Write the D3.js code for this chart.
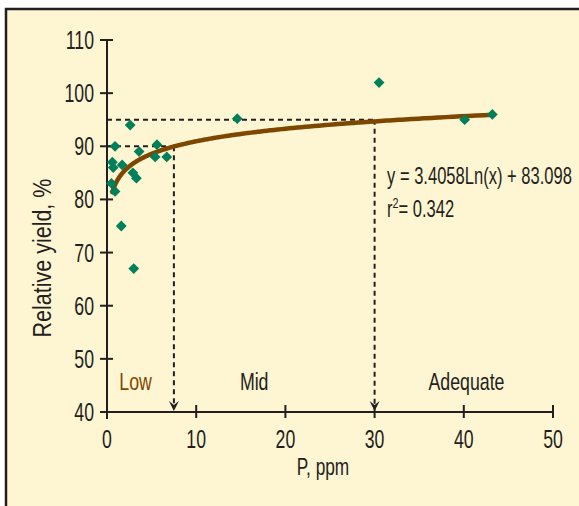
<!DOCTYPE html>
<html><head><meta charset="utf-8">
<script src="https://cdn.jsdelivr.net/npm/d3@7"></script>
<style>
html,body{margin:0;padding:0;background:#fff;}
svg{display:block;}
text{font-family:"Liberation Sans",Arial,sans-serif;fill:#231f20;}
</style></head>
<body>
<script>
// ---- data ----
const pointsX = [0.5, 0.9, 0.6, 0.7, 0.9, 1.7, 1.6, 2.6, 2.9, 3.3, 3.0, 3.6, 5.4, 5.6, 6.7, 14.6, 30.5, 40.1, 43.2];
const pointsY = [83, 81.5, 87, 86, 90, 86.5, 75, 94, 85, 84, 67, 89, 88, 90.3, 88, 95.2, 102, 95, 96];
const xTicks = [0, 10, 20, 30, 40, 50];
const yTicks = [40, 50, 60, 70, 80, 90, 100, 110];
const trendA = 3.4058, trendB = 83.098;   // y = a*ln(x) + b
const trendRange = [0.6, 43.2];
const thresholdX = [7.5, 30];
const thresholdY = [90, 95];
const zoneLabels = ["Low", "Mid", "Adequate"];
const zoneLabelX = [3.2, 16.5, 40.3];

const W = 579, H = 506;
const svg = d3.select("body").append("svg").attr("width", W).attr("height", H);

function txt(parent, px, py, str, size, anchor, fill, rot, sx) {
  const g = parent.append("g").attr("transform", `translate(${px},${py})` + (rot ? ` rotate(${rot})` : "") + ` scale(${sx || 0.75},1)`);
  const t = g.append("text").attr("font-size", size).attr("text-anchor", anchor || "start").text(str);
  if (fill) t.style("fill", fill);
  return t;
}

// panel background & frame
svg.append("rect").attr("x", 6).attr("y", 9).attr("width", W + 20).attr("height", H + 20)
  .attr("fill", "#fef5d2").attr("stroke", "#231f20").attr("stroke-width", 2.5);

const x = d3.scaleLinear().domain([0, 50]).range([107, 553]);
const y = d3.scaleLinear().domain([40, 110]).range([412, 40]);
const ink = "#231f20";

// dashed guide lines
const dash = svg.append("g").attr("stroke", ink).attr("stroke-width", 2).attr("stroke-dasharray", "5,4").attr("fill", "none");
thresholdX.forEach((tx, i) => {
  dash.append("line").attr("x1", x(0)).attr("x2", x(tx)).attr("y1", y(thresholdY[i])).attr("y2", y(thresholdY[i]));
  dash.append("line").attr("x1", x(tx)).attr("x2", x(tx)).attr("y1", y(thresholdY[i])).attr("y2", y(40) - 8);
});
thresholdX.forEach(tx => {
  const cx = x(tx), ty = y(40) - 1;
  svg.append("path").attr("d", `M${cx},${ty} L${cx - 5},${ty - 10} L${cx},${ty - 6} L${cx + 5},${ty - 10} Z`).attr("fill", ink);
});

// axes
const ax = svg.append("g").attr("stroke", ink).attr("stroke-width", 2);
ax.append("line").attr("x1", x(0) - 7).attr("x2", x(50)).attr("y1", y(40)).attr("y2", y(40));
ax.append("line").attr("x1", x(0)).attr("x2", x(0)).attr("y1", y(110)).attr("y2", y(40) + 7);
yTicks.forEach(t => ax.append("line").attr("x1", x(0) - 7).attr("x2", x(0) + 6).attr("y1", y(t)).attr("y2", y(t)));
xTicks.forEach(t => ax.append("line").attr("x1", x(t)).attr("x2", x(t)).attr("y1", y(40) - 7).attr("y2", y(40) + 6));

const labels = svg.append("g");
yTicks.forEach(t => txt(labels, x(0) - 13, y(t) + 9, t, 26, "end", null, 0, 0.68));
xTicks.forEach(t => txt(labels, x(t), y(40) + 36, t, 26, "middle", null, 0, 0.68));

txt(labels, 323, 475, "P, ppm", 24, "middle", null, 0, 0.72);
txt(labels, 51, 258, "Relative yield, %", 25, "middle", null, -90, 0.86);

// trend curve
const curvePts = d3.range(0, 201).map(i => {
  const xv = trendRange[0] * Math.pow(trendRange[1] / trendRange[0], i / 200);
  return [xv, trendA * Math.log(xv) + trendB];
});
svg.append("path").datum(curvePts)
  .attr("d", d3.line().x(d => x(d[0])).y(d => y(d[1])).curve(d3.curveMonotoneX))
  .attr("fill", "none").attr("stroke", "#7d4700").attr("stroke-width", 4.5).attr("stroke-linecap", "round");

// points
svg.append("g").selectAll("path").data(pointsX).join("path")
  .attr("transform", (d, i) => `translate(${x(d)},${y(pointsY[i])}) rotate(45)`)
  .attr("d", d3.symbol().type(d3.symbolSquare).size(58))
  .attr("fill", "#00805a");

// zone labels
zoneLabels.forEach((s, i) => txt(labels, x(zoneLabelX[i]), y(44.2), s, 24, "middle", i === 0 ? "#7d4700" : ink, 0, 0.74));

// equation
txt(labels, 387, 184, `y = ${trendA}Ln(x) + ${trendB}`, 23, "start", null, 0, 0.72);
const r2 = txt(labels, 387, 217, "", 23, "start", null, 0, 0.72);
r2.append("tspan").text("r");
r2.append("tspan").attr("font-size", 15).attr("dy", -9).text("2");
r2.append("tspan").attr("dy", 9).text("= 0.342");
</script>
</body></html>
